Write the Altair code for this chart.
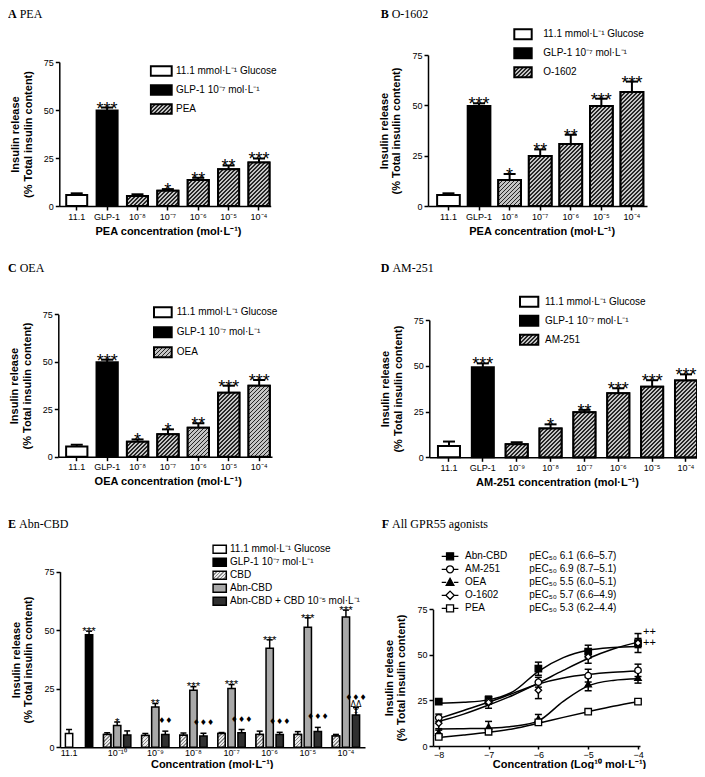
import math
import altair as alt
import pandas as pd

# ---------------- layout constants (page px -> plot px) ----------------
M = 8
W, H = 689, 761
FONT = "Liberation Sans"
SERIF = "Liberation Serif"
GLU = "11.1 mmol·L⁻¹ Glucose"
GLP = "GLP-1 10⁻⁷ mol·L⁻¹"
COMBO = "Abn-CBD + CBD 10⁻⁵ mol·L⁻¹"
YTITLE = ["Insulin release", "(% Total insulin content)"]
DARK, LIGHT = "#262626", "#c4c4c4"
CDARK, CLIGHT = "#8a8a8a", "#ececec"

# ---------------- data ----------------
# A  PEA
a_cats = ["11.1", "GLP-1", "10⁻⁸", "10⁻⁷", "10⁻⁶", "10⁻⁵", "10⁻⁴"]
a_mean = [5.7, 49.7, 5.2, 8.0, 13.5, 19.1, 22.7]
a_sem = [0.9, 1.6, 0.9, 0.8, 1.2, 2.0, 2.1]
a_sig = ["", "***", "", "*", "**", "**", "***"]

# B  O-1602
b_cats = ["11.1", "GLP-1", "10⁻⁸", "10⁻⁷", "10⁻⁶", "10⁻⁵", "10⁻⁴"]
b_mean = [5.5, 49.7, 12.9, 24.8, 30.8, 49.7, 56.6]
b_sem = [0.8, 1.3, 3.0, 3.3, 4.6, 3.6, 5.2]
b_sig = ["", "***", "*", "**", "**", "***", "***"]

# C  OEA
c_cats = ["11.1", "GLP-1", "10⁻⁸", "10⁻⁷", "10⁻⁶", "10⁻⁵", "10⁻⁴"]
c_mean = [5.4, 49.7, 7.9, 11.8, 15.3, 33.7, 37.4]
c_sem = [0.9, 1.4, 1.2, 2.6, 2.3, 3.7, 3.0]
c_sig = ["", "***", "*", "*", "**", "***", "***"]

# D  AM-251
d_cats = ["11.1", "GLP-1", "10⁻⁹", "10⁻⁸", "10⁻⁷", "10⁻⁶", "10⁻⁵", "10⁻⁴"]
d_mean = [6.2, 49.2, 7.1, 15.8, 24.6, 35.0, 38.6, 41.9]
d_sem = [2.4, 2.1, 1.1, 2.2, 1.3, 2.7, 3.5, 3.4]
d_sig = ["", "***", "", "*", "**", "***", "***", "***"]

# E  Abn-CBD
e_groups = ["11.1", "10⁻¹⁰", "10⁻⁹", "10⁻⁸", "10⁻⁷", "10⁻⁶", "10⁻⁵", "10⁻⁴"]
e_glu = [5.9, 1.7]
e_glp = [48.1, 1.5]
e_cbd_mean = [5.5, 5.0, 5.2, 5.9, 5.5, 5.5, 4.8]
e_cbd_sem = [0.7, 0.9, 0.9, 0.4, 1.4, 1.2, 0.7]
e_abn_mean = [9.3, 17.2, 24.4, 25.1, 42.3, 51.3, 55.7]
e_abn_sem = [1.5, 1.5, 1.5, 1.7, 3.6, 4.0, 2.9]
e_abn_sig = ["*", "**", "***", "***", "***", "***", "***"]
e_combo_mean = [5.3, 5.5, 4.8, 6.2, 5.5, 6.8, 13.8]
e_combo_sem = [1.7, 1.4, 1.2, 1.4, 0.9, 1.7, 3.1]
e_combo_sig = ["", "♦♦", "♦♦♦", "♦♦♦", "♦♦♦", "♦♦♦", "♦♦♦|ΔΔ|‡"]

# F  All GPR55 agonists
f_agonists = ["Abn-CBD", "AM-251", "OEA", "O-1602", "PEA"]
f_pec = ["pEC₅₀ 6.1 (6.6–5.7)", "pEC₅₀ 6.9 (8.7–5.1)", "pEC₅₀ 5.5 (6.0–5.1)",
         "pEC₅₀ 5.7 (6.6–4.9)", "pEC₅₀ 5.3 (6.2–4.4)"]
f_logc = [-8, -7, -6, -5, -4]
f_mean = {
    "Abn-CBD": [24.4, 25.5, 42.4, 51.8, 56.5],
    "AM-251": [15.5, 24.3, 35.0, 38.6, 41.5],
    "OEA": [7.5, 10.5, 15.0, 34.0, 37.5],
    "O-1602": [12.5, 24.0, 30.6, 49.0, 56.5],
    "PEA": [5.0, 7.8, 13.0, 18.8, 24.3],
}
f_sem = {
    "Abn-CBD": [1.0, 1.5, 3.6, 3.5, 2.5],
    "AM-251": [2.0, 1.3, 2.7, 3.5, 3.4],
    "OEA": [1.2, 3.0, 2.3, 3.7, 3.0],
    "O-1602": [3.0, 3.3, 4.6, 3.6, 5.2],
    "PEA": [0.9, 0.8, 1.2, 1.0, 1.0],
}
f_curve_x = [-8, -7.5, -7, -6.5, -6, -5.5, -5, -4.5, -4]
f_curve = {
    "Abn-CBD": [23.5, 24.0, 25.3, 30.0, 41.0, 48.5, 52.5, 54.0, 54.6],
    "AM-251": [15.0, 19.5, 24.0, 29.0, 34.0, 37.3, 39.3, 40.5, 41.2],
    "OEA": [9.3, 9.5, 9.8, 10.8, 13.8, 24.5, 33.0, 36.0, 36.9],
    "O-1602": [13.5, 17.5, 22.5, 28.0, 34.5, 41.5, 48.0, 53.2, 57.0],
    "PEA": [4.7, 6.0, 7.5, 9.5, 12.5, 15.7, 18.8, 21.8, 24.3],
}
f_fill = ["black", "white", "black", "white", "white"]
f_plus_y = [62.4, 56.7]


# ---------------- helpers ----------------
def px(v):
    return v - M


def box_path(w, h):
    r = h / w
    return f"M-1,{-r:.3f}H1V{r:.3f}H-1Z"


def hatch(w, h, dark, light, period=4.0, frac=0.4):
    """Diagonal (///) stripe fill for a box of w x h pixels, as a Vega linear gradient."""
    h = max(h, 1.0)
    L = w + h
    den = w * w + h * h
    stops = []
    k = 0.0
    while k * period < L:
        a = k * period / L
        b = min((k + frac) * period / L, 1.0)
        c = min((k + 1) * period / L, 1.0)
        stops += [{"offset": round(a, 4), "color": dark}, {"offset": round(b, 4), "color": dark},
                  {"offset": round(b, 4), "color": light}, {"offset": round(c, 4), "color": light}]
        k += 1
    return {"gradient": "linear", "x1": 0, "y1": 0,
            "x2": round(L * w / den, 4), "y2": round(L * h / den, 4), "stops": stops}


def hatch_expr(g):
    stops = ",".join("{offset:%s,color:'%s'}" % (s["offset"], s["color"]) for s in g["stops"])
    return alt.ExprRef(expr="{gradient:'linear',x1:0,y1:0,x2:%s,y2:%s,stops:[%s]}" % (g["x2"], g["y2"], stops))


def make_legend(sym_left, sym_w, first_cy, step, label_x, sw, symbol_type=None, font=10, **kw):
    size_px = max(math.ceil(sym_w + sw), font)
    lx = sym_left - (size_px - sym_w) / 2
    ly = first_cy - step / 2
    args = dict(orient="none", legendX=px(lx), legendY=px(ly), title=None,
                symbolSize=sym_w ** 2, symbolStrokeWidth=sw,
                labelFont=FONT, labelFontSize=font, labelColor="black",
                labelOffset=label_x - lx - size_px, rowPadding=0, clipHeight=step,
                padding=0, labelLimit=0)
    if symbol_type:
        args["symbolType"] = symbol_type
    args.update(kw)
    return alt.Legend(**args)


def x_axis(y_page, title, title_x, **kw):
    return alt.Axis(orient="bottom", offset=px(y_page) - H, title=title,
                    titleX=px(title_x), labelAngle=0, **kw)


def y_axis(x_page):
    return alt.Axis(orient="left", offset=-px(x_page), values=[0, 25, 50, 75], title=YTITLE,
                    titlePadding=10)


def bar_panel(cats, mean, sem, sig, drug, xr, yr, pad_in, pad_out, align, xtitle, title_x, leg_geom):
    n = len(cats)
    df = pd.DataFrame({
        "cat": cats, "mean": mean,
        "hi": [m + s for m, s in zip(mean, sem)],
        "sig": sig,
        "series": [GLU, GLP] + [drug] * (n - 2),
    })
    xsc = alt.Scale(domain=cats, range=[px(xr[0]), px(xr[1])],
                    paddingInner=pad_in, paddingOuter=pad_out, align=align)
    ysc = alt.Scale(domain=[0, 75], range=[px(yr[0]), px(yr[1])], nice=False)
    xa = x_axis(yr[0], xtitle, title_x)
    ya = y_axis(xr[0])
    xe = alt.X("cat:N", sort=cats, scale=xsc, axis=xa)
    ye = alt.Y("mean:Q", scale=ysc, axis=ya)
    sym_left, sym_w, sym_h, first_cy, step_l, label_x = leg_geom
    leg = make_legend(sym_left, sym_w, first_cy, step_l, label_x, 2, box_path(sym_w, sym_h))
    legend_hatch = hatch_expr(hatch(sym_w, sym_h, DARK, LIGHT, period=4.0))
    base = alt.Chart(df)
    bars = base.mark_bar(stroke="black", strokeWidth=2).encode(
        x=xe, y=ye,
        color=alt.Color("series:N", scale=alt.Scale(domain=[GLU, GLP, drug],
                                                     range=["white", "black", legend_hatch]),
                        legend=leg),
    )
    # hatched overlay for the drug bars (stripes sized to each bar)
    step = (xr[1] - xr[0]) / (n - pad_in + 2 * pad_out)
    bw = step * (1 - pad_in)
    ppu = (yr[0] - yr[1]) / 75.0
    hatched = []
    for i in range(2, n):
        hatched.append(alt.Chart(df.iloc[[i]]).mark_bar(
            fill=hatch(bw, mean[i] * ppu, DARK, LIGHT),
            stroke="black", strokeWidth=2).encode(x=xe, y=ye))
    err = base.mark_rule(color="black", strokeWidth=2).encode(x=xe, y=ye, y2="hi:Q")
    cap = base.mark_tick(color="black", thickness=2, size=12, orient="horizontal", opacity=1).encode(
        x=xe, y=alt.Y("hi:Q", scale=ysc, axis=ya))
    stars = base.mark_text(font=FONT, fontSize=18, color="black", baseline="alphabetic", dy=7).encode(
        x=xe, y=alt.Y("hi:Q", scale=ysc, axis=ya), text="sig:N")
    return alt.layer(bars, *hatched, err, cap, stars)


# ---------------- panels A-D ----------------
pA = bar_panel(a_cats, a_mean, a_sem, a_sig, "PEA", (59.3, 270.7), (206, 62), 0.309, 0.134, 0.85,
               "PEA concentration (mol·L⁻¹)", 168, (150.7, 21, 9.5, 71, 19, 176))
pB = bar_panel(b_cats, b_mean, b_sem, b_sig, "O-1602", (428, 647), (206, 55), 0.258, 0.21, 0.71,
               "PEA concentration (mol·L⁻¹)", 541.7, (514.3, 17.4, 10, 34.3, 18.7, 543.3))
pC = bar_panel(c_cats, c_mean, c_sem, c_sig, "OEA", (58.3, 272), (456.7, 314.3), 0.30, 0.165, 0.78,
               "OEA concentration (mol·L⁻¹)", 167.7, (154, 17.7, 10, 312.3, 19.7, 176.7))
pD = bar_panel(d_cats, d_mean, d_sem, d_sig, "AM-251", (429.3, 697), (457.3, 320), 0.35, 0.128, 1.0,
               "AM-251 concentration (mol·L⁻¹)", 557, (520, 18.3, 10, 301.7, 18.7, 545))

# ---------------- panel E ----------------
rows = [
    dict(grp="11.1", slot="a", series=GLU, mean=e_glu[0], hi=e_glu[0] + e_glu[1], sig="", sym=""),
    dict(grp="11.1", slot="c", series=GLP, mean=e_glp[0], hi=e_glp[0] + e_glp[1], sig="***", sym=""),
]
for i, g in enumerate(e_groups[1:]):
    rows.append(dict(grp=g, slot="a", series="CBD", mean=e_cbd_mean[i],
                     hi=e_cbd_mean[i] + e_cbd_sem[i], sig="", sym=""))
    rows.append(dict(grp=g, slot="b", series="Abn-CBD", mean=e_abn_mean[i],
                     hi=e_abn_mean[i] + e_abn_sem[i], sig=e_abn_sig[i], sym=""))
    rows.append(dict(grp=g, slot="c", series=COMBO, mean=e_combo_mean[i],
                     hi=e_combo_mean[i] + e_combo_sem[i], sig="", sym=e_combo_sig[i]))
df_e = pd.DataFrame(rows)
E_XR, E_YR = (60, 365), (747.3, 571.7)
E_PI, E_PO = 0.27, 0.54
e_xsc = alt.Scale(domain=e_groups, range=[px(E_XR[0]), px(E_XR[1])], paddingInner=0, paddingOuter=0)
e_ysc = alt.Scale(domain=[0, 75], range=[px(E_YR[0]), px(E_YR[1])], nice=False)
e_xa = x_axis(747.3, "Concentration (mol·L⁻¹)", 211.7, ticks=False, labelPadding=1,
              titleY=17, titleBaseline="middle",
              labelOffset={"condition": {"test": "datum.value === '11.1'", "value": -10}, "value": 0})
e_ya = y_axis(60)
e_xe = alt.X("grp:N", sort=e_groups, scale=e_xsc, axis=e_xa)
e_ye = alt.Y("mean:Q", scale=e_ysc, axis=e_ya)
e_xo = alt.XOffset("slot:N", scale=alt.Scale(domain=["a", "b", "c"], paddingInner=E_PI, paddingOuter=E_PO))
e_leg_hatch = hatch_expr(hatch(13.3, 8, CDARK, CLIGHT, period=3.5, frac=0.35))
baseE = alt.Chart(df_e)
e_bars = baseE.mark_bar(stroke="black", strokeWidth=1.5).encode(
    x=e_xe, xOffset=e_xo, y=e_ye,
    color=alt.Color("series:N",
                    scale=alt.Scale(domain=[GLU, GLP, "CBD", "Abn-CBD", COMBO],
                                    range=["white", "black", e_leg_hatch, "#a9a9a9", "#303030"]),
                    legend=make_legend(213, 13.3, 549.3, 12.7, 230, 1.5, box_path(13.3, 8))),
)
e_bw = (E_XR[1] - E_XR[0]) / len(e_groups) / (3 - E_PI + 2 * E_PO) * (1 - E_PI)
e_ppu = (E_YR[0] - E_YR[1]) / 75.0
e_hatched = []
for idx in df_e.index[df_e["series"] == "CBD"]:
    e_hatched.append(alt.Chart(df_e.loc[[idx]]).mark_bar(
        fill=hatch(e_bw, df_e.loc[idx, "mean"] * e_ppu, CDARK, CLIGHT, period=3.5, frac=0.35),
        stroke="black", strokeWidth=1.5).encode(x=e_xe, xOffset=e_xo, y=e_ye))
e_err = baseE.mark_rule(color="black", strokeWidth=1.5).encode(
    x=e_xe, xOffset=e_xo, y=e_ye, y2="hi:Q")
e_cap = baseE.mark_tick(color="black", thickness=1.5, size=6, orient="horizontal", opacity=1).encode(
    x=e_xe, xOffset=e_xo, y=alt.Y("hi:Q", scale=e_ysc, axis=e_ya))
e_stars = baseE.mark_text(font=FONT, fontSize=11.5, color="black", baseline="alphabetic", dy=3.7).encode(
    x=e_xe, xOffset=e_xo, y=alt.Y("hi:Q", scale=e_ysc, axis=e_ya), text="sig:N")
e_syms = baseE.mark_text(font="DejaVu Sans", fontSize=8, color="black", baseline="alphabetic", dy=-8,
                         lineBreak="|", lineHeight=7).encode(
    x=e_xe, xOffset=e_xo, y=alt.Y("hi:Q", scale=e_ysc, axis=e_ya), text="sym:N")
pE = alt.layer(e_bars, *e_hatched, e_err, e_cap, e_stars, e_syms)

# ---------------- panel F ----------------
pt_rows = []
for ag, pec in zip(f_agonists, f_pec):
    for x, m, s in zip(f_logc, f_mean[ag], f_sem[ag]):
        pt_rows.append(dict(agonist=ag, agonist_l=ag, pec=pec, logc=x, mean=m, lo=m - s, hi=m + s))
df_fp = pd.DataFrame(pt_rows)
cv_rows = []
for ag in f_agonists:
    for x, v in zip(f_curve_x, f_curve[ag]):
        cv_rows.append(dict(agonist=ag, logc=x, val=v))
df_fc = pd.DataFrame(cv_rows)
df_plus = pd.DataFrame({"logc": [-4, -4], "y": f_plus_y, "t": ["++", "++"]})

f_xsc = alt.Scale(domain=[-8.115, -3.96], range=[px(433), px(640)], nice=False, zero=False)
f_ysc = alt.Scale(domain=[0, 75], range=[px(746), px(609.3)], nice=False)
f_xa = x_axis(746, "Concentration (Log¹⁰ mol·L⁻¹)", 569, values=[-8, -7, -6, -5, -4], format="d",
              tickSize=3, labelPadding=1, titleY=18.5, titleBaseline="middle")
f_ya = y_axis(433)
f_xe = alt.X("logc:Q", scale=f_xsc, axis=f_xa)


def fy(field):
    return alt.Y(field, scale=f_ysc, axis=f_ya)


f_lines = alt.Chart(df_fc).mark_line(interpolate="monotone", color="black", strokeWidth=1.5).encode(
    x=f_xe, y=fy("val:Q"), detail="agonist:N")
baseF = alt.Chart(df_fp)
f_err = baseF.mark_rule(color="black", strokeWidth=1.5).encode(x=f_xe, y=fy("lo:Q"), y2="hi:Q")
f_cap_hi = baseF.mark_tick(color="black", thickness=1.5, size=7, orient="horizontal", opacity=1).encode(
    x=f_xe, y=fy("hi:Q"))
f_cap_lo = baseF.mark_tick(color="black", thickness=1.5, size=7, orient="horizontal", opacity=1).encode(
    x=f_xe, y=fy("lo:Q"))
plain_shapes = ["square", "circle", "triangle-up", "diamond", "square"]
f_pts = baseF.mark_point(filled=True, stroke="black", strokeWidth=1.3, size=42, opacity=1).encode(
    x=f_xe, y=fy("mean:Q"),
    color=alt.Color("agonist:N", scale=alt.Scale(domain=f_agonists, range=f_fill), legend=None),
    shape=alt.Shape("agonist:N", scale=alt.Scale(domain=f_agonists, range=plain_shapes), legend=None),
)
stub_shapes = [
    "M-1,0H-0.42M0.42,0H1M-0.42,-0.42H0.42V0.42H-0.42Z",
    "M-1,0H-0.42M0.42,0H1M-0.42,0A0.42,0.42,0,1,1,0.42,0A0.42,0.42,0,1,1,-0.42,0Z",
    "M-1,0H-0.46M0.46,0H1M0,-0.48L0.46,0.36H-0.46Z",
    "M-1,0H-0.5M0.5,0H1M0,-0.5L0.5,0L0,0.5L-0.5,0Z",
    "M-1,0H-0.42M0.42,0H1M-0.42,-0.42H0.42V0.42H-0.42Z",
]
leg_main = make_legend(441.7, 16.7, 556.3, 12.75, 465, 1.3, symbolStrokeColor="black")
leg_pec = make_legend(506.95, 16.7, 556.3, 12.75, 529.3, 1.3, symbolOpacity=0)
f_leg = baseF.mark_point(filled=True, stroke="black", strokeWidth=1.3, size=42, opacity=1,
                         yOffset=4000, clip=True).encode(
    x=f_xe, y=fy("mean:Q"),
    color=alt.Color("agonist_l:N", scale=alt.Scale(domain=f_agonists, range=f_fill), legend=leg_main),
    shape=alt.Shape("agonist_l:N", scale=alt.Scale(domain=f_agonists, range=stub_shapes), legend=leg_main),
    strokeDash=alt.StrokeDash("pec:N", scale=alt.Scale(domain=f_pec, range=[[1, 0]] * 5), legend=leg_pec),
)
f_plus = alt.Chart(df_plus).mark_text(font=FONT, fontSize=11, color="black", align="left",
                                      baseline="middle", dx=5).encode(
    x=f_xe, y=fy("y:Q"), text="t:N")
pF = alt.layer(f_lines, f_err, f_cap_hi, f_cap_lo, f_pts, f_leg, f_plus).resolve_scale(
    color="independent", shape="independent")


# ---------------- panel labels ----------------
def panel_label(letter, name, x_page, y_page, letter_w):
    d = pd.DataFrame({"t": [letter], "n": [name]})
    a = alt.Chart(d).mark_text(font=SERIF, fontSize=12, fontWeight="bold", align="left",
                               baseline="alphabetic", color="black").encode(
        x=alt.value(px(x_page)), y=alt.value(px(y_page)), text="t:N")
    b = alt.Chart(d).mark_text(font=SERIF, fontSize=12, fontWeight="normal", align="left",
                               baseline="alphabetic", color="black").encode(
        x=alt.value(px(x_page) + letter_w + 3), y=alt.value(px(y_page)), text="n:N")
    return [a, b]


labels = []
labels += panel_label("A", "PEA", 8, 18, 8.7)
labels += panel_label("B", "O-1602", 380.7, 18, 8.0)
labels += panel_label("C", "OEA", 8, 271.5, 8.7)
labels += panel_label("D", "AM-251", 380.7, 271.5, 8.7)
labels += panel_label("E", "Abn-CBD", 8, 528, 8.0)
labels += panel_label("F", "All GPR55 agonists", 381.7, 528, 7.3)

chart = alt.layer(pA, pB, pC, pD, pE, pF, *labels).properties(
    width=W, height=H, autosize=alt.AutoSizeParams(type="none"), padding=0
).resolve_scale(
    x="independent", y="independent", color="independent", shape="independent",
    strokeDash="independent"
).configure_axis(
    labelFont=FONT, labelFontSize=9, labelColor="black",
    titleFont=FONT, titleFontSize=11, titleFontWeight="bold", titleColor="black",
    titleLineHeight=12.5, titlePadding=4,
    domainColor="black", domainWidth=1.5, tickColor="black", tickWidth=1.5, tickSize=4,
    labelPadding=2, grid=False,
).configure_view(stroke=None)

chart.save("out.html", embed_options={"renderer": "svg", "actions": False})
